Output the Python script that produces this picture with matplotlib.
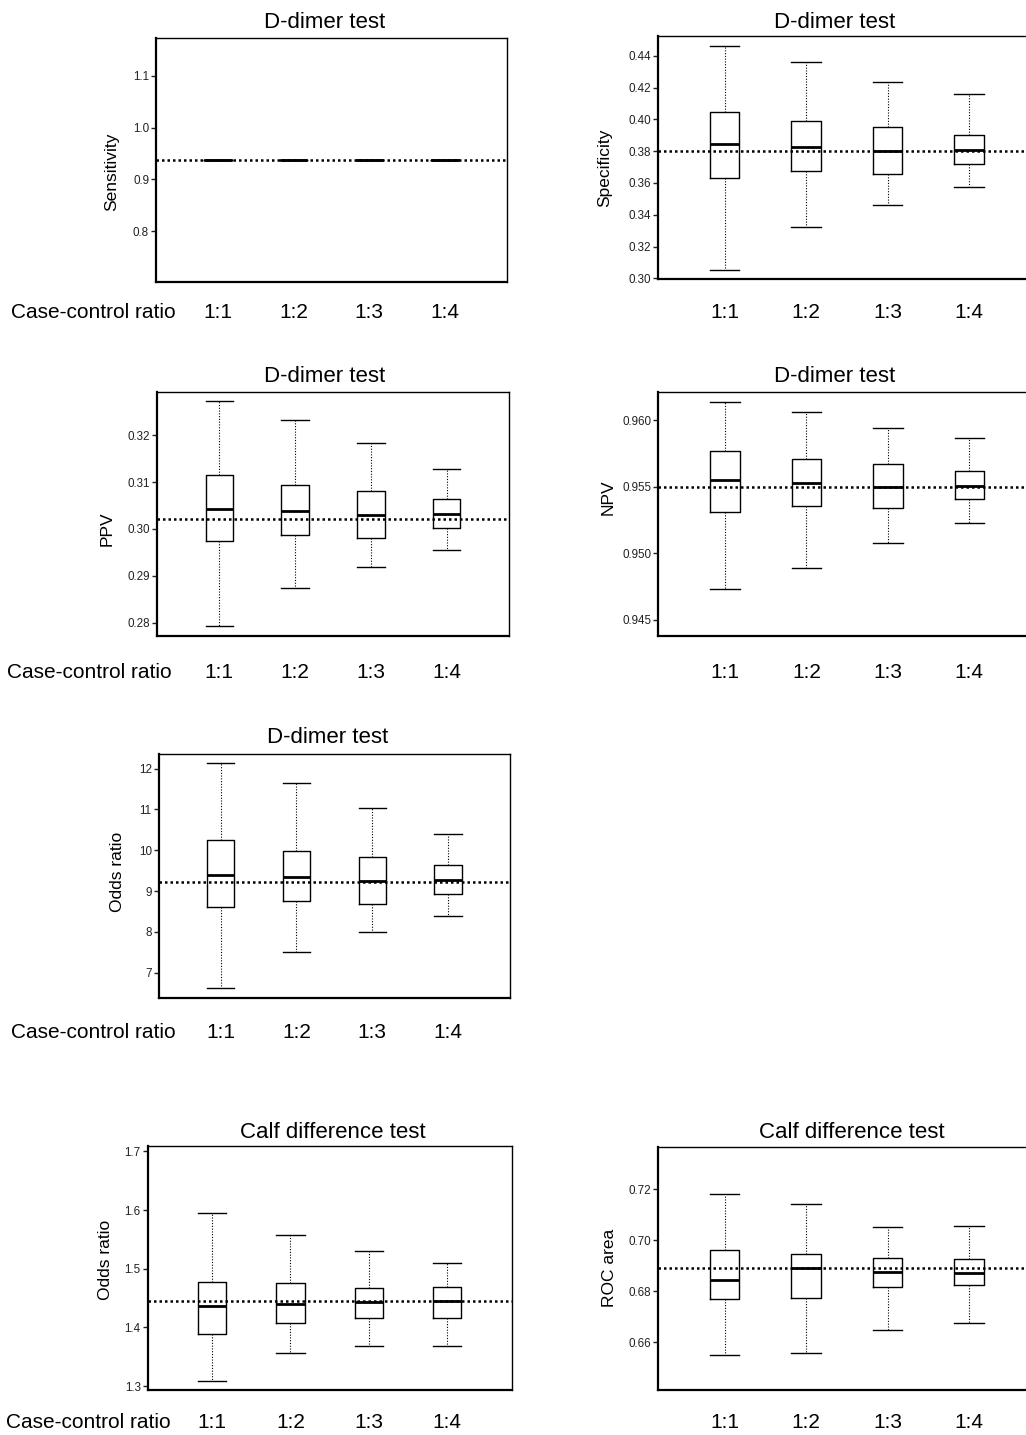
import matplotlib
matplotlib.use("Agg")
import matplotlib.pyplot as plt
from matplotlib.transforms import blended_transform_factory

plt.rcParams['font.family'] = ['Liberation Sans', 'DejaVu Sans']

W, H = 1026, 1435

ratios = ['1:1', '1:2', '1:3', '1:4']

# Sensitivity (D-dimer) - all the same
sens_low = [0.938, 0.938, 0.938, 0.938]
sens_q1 = [0.938, 0.938, 0.938, 0.938]
sens_med = [0.938, 0.938, 0.938, 0.938]
sens_q3 = [0.938, 0.938, 0.938, 0.938]
sens_high = [0.938, 0.938, 0.938, 0.938]
sens_ref = 0.938

# Specificity (D-dimer)
spec_low = [0.305, 0.3324, 0.3462, 0.3576]
spec_q1 = [0.3634, 0.3676, 0.3657, 0.372]
spec_med = [0.3842, 0.3825, 0.380, 0.3806]
spec_q3 = [0.4049, 0.3989, 0.3951, 0.3901]
spec_high = [0.4462, 0.436, 0.4234, 0.4161]
spec_ref = 0.380

# PPV (D-dimer)
ppv_low = [0.2793, 0.2874, 0.2918, 0.2954]
ppv_q1 = [0.2974, 0.2988, 0.2981, 0.3001]
ppv_med = [0.3043, 0.3038, 0.3029, 0.3031]
ppv_q3 = [0.3116, 0.3094, 0.3081, 0.3064]
ppv_high = [0.3273, 0.3232, 0.3184, 0.3128]
ppv_ref = 0.3022

# NPV (D-dimer)
npv_low = [0.9473, 0.9489, 0.9508, 0.9523]
npv_q1 = [0.9531, 0.9536, 0.9534, 0.9541]
npv_med = [0.9555, 0.9553, 0.9550, 0.9551]
npv_q3 = [0.9577, 0.9571, 0.9567, 0.9562]
npv_high = [0.9614, 0.9606, 0.9594, 0.9587]
npv_ref = 0.955

# Odds ratio (D-dimer)
or_low = [6.62, 7.505, 8.003, 8.387]
or_q1 = [8.60, 8.763, 8.69, 8.935]
or_med = [9.40, 9.335, 9.237, 9.261]
or_q3 = [10.25, 9.989, 9.841, 9.637]
or_high = [12.145, 11.647, 11.042, 10.397]
or_ref = 9.212

# Odds ratio (calf difference)
calf_low = [1.3091, 1.3568, 1.3682, 1.3676]
calf_q1 = [1.3892, 1.4068, 1.4165, 1.4153]
calf_med = [1.4364, 1.4403, 1.4432, 1.4455]
calf_q3 = [1.4778, 1.4761, 1.4676, 1.4688]
calf_high = [1.5943, 1.5568, 1.5295, 1.5097]
calf_ref = 1.4449

# ROC area (calf difference)
roc_low = [0.6549, 0.6559, 0.6649, 0.6674]
roc_q1 = [0.6768, 0.6774, 0.6815, 0.6824]
roc_med = [0.6843, 0.6890, 0.6875, 0.6870]
roc_q3 = [0.6960, 0.6947, 0.6932, 0.6927]
roc_high = [0.7180, 0.7142, 0.7051, 0.7056]
roc_ref = 0.6892

fig = plt.figure(figsize=(W / 100, H / 100), dpi=100)


def fy(py):
    return 1 - py / H


def panel(box, title, title_xy, ylabel, ylab_xy, stats, ref, yticks, ylabels,
          ylim, lab_y, left_text=None):
    left, top, right, bottom = box
    ax = fig.add_axes([left / W, 1 - bottom / H, (right - left) / W, (bottom - top) / H])
    low, q1, med, q3, high = stats
    bstats = []
    for i in range(len(ratios)):
        bstats.append(dict(whislo=low[i], q1=q1[i], med=med[i], q3=q3[i],
                           whishi=high[i], fliers=[]))
    ax.bxp(bstats, positions=[1, 2, 3, 4], widths=0.36, capwidths=0.36,
           showfliers=False,
           boxprops=dict(color='black', linewidth=1.0),
           medianprops=dict(color='black', linewidth=2.0),
           whiskerprops=dict(color='black', linewidth=0.8, linestyle=(0, (1, 1.5))),
           capprops=dict(color='black', linewidth=1.0))
    ax.axhline(ref, color='black', linestyle=(0, (1, 1.2)), linewidth=1.8, zorder=5)
    ax.set_xlim(0.18, 4.82)
    ax.set_ylim(*ylim)
    ax.set_yticks(yticks)
    ax.set_yticklabels(ylabels)
    ax.set_xticks([])
    ax.tick_params(axis='y', direction='out', length=3.5, width=1, pad=1.5,
                   labelsize=8.4, colors='#222222')
    for s in ['left', 'bottom']:
        ax.spines[s].set_linewidth(1.6)
    for s in ['top', 'right']:
        ax.spines[s].set_linewidth(1.0)
    fig.text(title_xy[0] / W, fy(title_xy[1]), title, ha='center', va='center', fontsize=16)
    fig.text(ylab_xy[0] / W, fy(ylab_xy[1]), ylabel, ha='center', va='center',
             rotation=90, fontsize=12.5)
    tr = blended_transform_factory(ax.transData, fig.transFigure)
    for i, r in enumerate(ratios):
        ax.text(i + 1, fy(lab_y), r, transform=tr, ha='center', va='center',
                fontsize=15)
    if left_text is not None:
        fig.text(left_text / W, fy(lab_y), 'Case-control ratio', ha='left',
                 va='center', fontsize=15)
    return ax


panel((156, 38, 507, 282), 'D-dimer test', (325, 22), 'Sensitivity', (112, 172),
      (sens_low, sens_q1, sens_med, sens_q3, sens_high), sens_ref,
      [0.8, 0.9, 1.0, 1.1], ['0.8', '0.9', '1.0', '1.1'], (0.7014, 1.1735), 313, 11)

panel((657.7, 35.7, 1036, 279), 'D-dimer test', (835, 22), 'Specificity', (605, 168),
      (spec_low, spec_q1, spec_med, spec_q3, spec_high), spec_ref,
      [0.30, 0.32, 0.34, 0.36, 0.38, 0.40, 0.42, 0.44],
      ['0.30', '0.32', '0.34', '0.36', '0.38', '0.40', '0.42', '0.44'],
      (0.2996, 0.4526), 313)

panel((157, 391.7, 509, 635.7), 'D-dimer test', (325, 377), 'PPV', (107, 529),
      (ppv_low, ppv_q1, ppv_med, ppv_q3, ppv_high), ppv_ref,
      [0.28, 0.29, 0.30, 0.31, 0.32], ['0.28', '0.29', '0.30', '0.31', '0.32'],
      (0.2772, 0.3293), 673, 7)

panel((658.3, 392, 1036, 635.7), 'D-dimer test', (835, 376), 'NPV', (608, 497),
      (npv_low, npv_q1, npv_med, npv_q3, npv_high), npv_ref,
      [0.945, 0.950, 0.955, 0.960], ['0.945', '0.950', '0.955', '0.960'],
      (0.94382, 0.96213), 672)

panel((158.7, 754.3, 510, 997.7), 'D-dimer test', (328, 738), 'Odds ratio', (118, 872),
      (or_low, or_q1, or_med, or_q3, or_high), or_ref,
      [7, 8, 9, 10, 11, 12], ['7', '8', '9', '10', '11', '12'],
      (6.387, 12.351), 1033, 11)

panel((147.7, 1146, 511.7, 1390), 'Calf difference test', (333, 1132), 'Odds ratio',
      (105, 1260),
      (calf_low, calf_q1, calf_med, calf_q3, calf_high), calf_ref,
      [1.3, 1.4, 1.5, 1.6, 1.7], ['1.3', '1.4', '1.5', '1.6', '1.7'],
      (1.2932, 1.7091), 1423, 6)

panel((657.7, 1146.7, 1036, 1390), 'Calf difference test', (852, 1133), 'ROC area',
      (610, 1268),
      (roc_low, roc_q1, roc_med, roc_q3, roc_high), roc_ref,
      [0.66, 0.68, 0.70, 0.72], ['0.66', '0.68', '0.70', '0.72'],
      (0.64134, 0.73657), 1423)

fig.savefig('out.png', dpi=100)
